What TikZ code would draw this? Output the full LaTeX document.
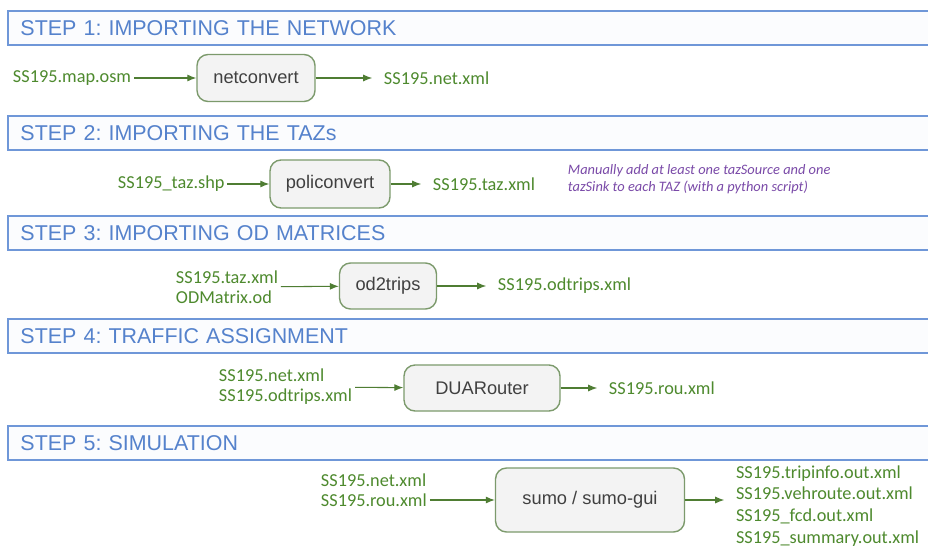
\documentclass[tikz,border=0pt]{standalone}
\usepackage{fontspec}
\setmainfont{Carlito}
\newfontfamily\headfont{Liberation Sans}
\usetikzlibrary{arrows.meta,positioning}
\definecolor{sbblue}{HTML}{6F97D8}
\definecolor{sbtext}{HTML}{5582CC}
\definecolor{sbfill}{HTML}{FBFCFE}
\definecolor{sbbox}{HTML}{7C9A6C}
\definecolor{sbgray}{HTML}{F3F3F3}
\definecolor{sbgreen}{HTML}{4E8A2E}
\definecolor{sbarrow}{HTML}{4F7D33}
\definecolor{sbpurple}{HTML}{7A4AA8}
\frenchspacing

\begin{document}
\begin{tikzpicture}[x=0.02cm,y=-0.02cm,>={Latex[length=1.8mm,width=1.4mm]},
    stepbar/.style={draw=sbblue,fill=sbfill,line width=1.1pt,anchor=west,minimum height=0.68cm,text width=18.06cm,inner xsep=0.25cm,align=left,text=sbtext,font=\headfont\fontsize{12.2}{14}\selectfont},
    tool/.style={draw=sbbox,fill=sbgray,rounded corners=2.2mm,line width=0.8pt,text=black!75,font=\headfont\fontsize{10.4}{12}\selectfont},
    file/.style={anchor=west,align=left,inner sep=1.5pt,text=sbgreen,font=\fontsize{10.4}{11.3}\selectfont},
    flow/.style={->,draw=sbarrow,line width=0.6pt},
    outflow/.style={flow,shorten >=5pt}]
    \useasboundingbox[fill=white] (0,0) rectangle (928,547);

    % step 1
    \node[stepbar] (importnet) at (7,28) {STEP 1: IMPORTING THE NETWORK};
    \node[file] (maposm) at (10,78) {SS195.map.osm};
    \node[tool,minimum width=2.36cm,minimum height=0.94cm] (netconvert) at (256,78) {netconvert};
    \node[file] (netxml) at (381,78) {SS195.net.xml};
    \draw[flow] (maposm) -- (netconvert);
    \draw[outflow] (netconvert) -- (netxml);

    % step 2
    \node[stepbar] (importtaz) at (7,133) {STEP 2: IMPORTING THE TAZs};
    \node[file] (tazshp) at (115,184) {SS195\_taz.shp};
    \node[tool,minimum width=2.4cm,minimum height=0.96cm] (policonvert) at (330,184) {policonvert};
    \node[file] (tazxml) at (430,184) {SS195.taz.xml};
    \node[file,text=sbpurple,font=\itshape\fontsize{8.2}{9.6}\selectfont] (taznote) at (565,179) {Manually add at least one tazSource and one\\tazSink to each TAZ (with a python script)};
    \draw[flow] (tazshp) -- (policonvert);
    \draw[outflow] (policonvert) -- (tazxml);

    % step 3
    \node[stepbar] (importod) at (7,233) {STEP 3: IMPORTING OD MATRICES};
    \node[file] (odinput) at (173,287) {SS195.taz.xml\\ODMatrix.od};
    \node[tool,minimum width=1.94cm,minimum height=0.92cm] (od2trips) at (388,286) {od2trips};
    \node[file] (odtrips) at (495,286) {SS195.odtrips.xml};
    \draw[flow] (odinput) -- (od2trips);
    \draw[outflow] (od2trips) -- (odtrips);

    % step 4
    \node[stepbar] (assign) at (7,336) {STEP 4: TRAFFIC ASSIGNMENT};
    \node[file] (routeinput) at (216,387) {SS195.net.xml\\SS195.odtrips.xml};
    \node[tool,minimum width=3.12cm,minimum height=0.92cm] (duarouter) at (482,388) {DUARouter};
    \node[file] (rouxml) at (606,388) {SS195.rou.xml};
    \draw[flow] (routeinput) -- (duarouter);
    \draw[outflow] (duarouter) -- (rouxml);

    % step 5
    \node[stepbar] (simulation) at (7,443) {STEP 5: SIMULATION};
    \node[file] (simnet) at (318,480) {SS195.net.xml};
    \node[file] (simrou) at (318,500) {SS195.rou.xml};
    \node[tool,minimum width=3.78cm,minimum height=1.28cm] (sumo) at (590,500) {sumo / sumo-gui};
    \node[file,font=\fontsize{10.4}{12.4}\selectfont] (simout) at (733,506) {SS195.tripinfo.out.xml\\SS195.vehroute.out.xml\\SS195\_fcd.out.xml\\SS195\_summary.out.xml};
    \draw[flow] (simrou) -- (sumo);
    \draw[outflow] (sumo) -- (sumo -| simout.west);
\end{tikzpicture}
\end{document}
